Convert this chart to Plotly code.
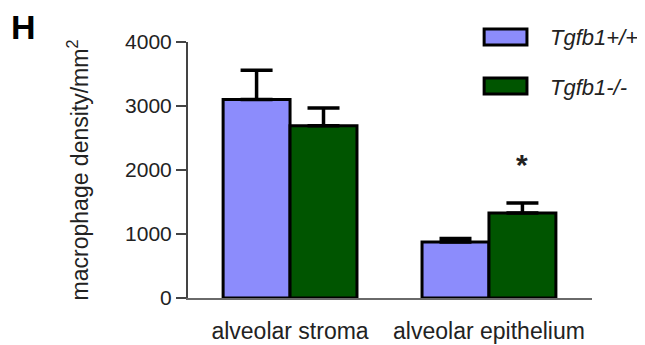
import plotly.graph_objects as go

categories = ["alveolar stroma", "alveolar epithelium"]
wt_mean = [3100, 875]
wt_sem = [460, 55]
ko_mean = [2690, 1330]
ko_sem = [280, 155]
series_names = ["Tgfb1+/+", "Tgfb1-/-"]
colors = ["#8C8CFC", "#005500"]
y_ticks = [0, 1000, 2000, 3000, 4000]

FONT = "Liberation Sans, Arial, sans-serif"
xpos = list(range(len(categories)))

fig = go.Figure()
for mean, sem, color, name in [(wt_mean, wt_sem, colors[0], series_names[0]),
                                (ko_mean, ko_sem, colors[1], series_names[1])]:
    fig.add_trace(go.Bar(
        x=xpos, y=mean, name=name,
        marker=dict(color=color, line=dict(color="black", width=3)),
        error_y=dict(type="data", symmetric=False, array=sem,
                     arrayminus=[0] * len(sem), color="black",
                     thickness=3.5, width=16),
        showlegend=False,
    ))

# page body has an 8px margin, so the figure is sized/offset to compensate
fig.update_layout(
    width=637, height=337,
    margin=dict(l=180, r=53, t=34, b=47, autoexpand=False),
    paper_bgcolor="white", plot_bgcolor="white",
    barmode="group", bargap=0.327, bargroupgap=0,
    font=dict(family=FONT, color="#222"),
)
fig.update_xaxes(
    range=[-0.513, 1.518], tickvals=xpos, ticktext=categories,
    showline=True, linecolor="#6a6a6a", linewidth=2,
    ticks="", showgrid=False, zeroline=False, automargin=False,
    tickfont=dict(size=23, color="#222"), ticklabelstandoff=11,
)
fig.update_yaxes(
    range=[0, 4000], tickvals=y_ticks,
    showline=True, linecolor="#444", linewidth=2,
    ticks="outside", ticklen=10, tickwidth=2, tickcolor="#444",
    showgrid=False, zeroline=False, automargin=False,
    tickfont=dict(size=21, color="#222"),
    title=dict(text="macrophage density/mm<sup>2</sup>", standoff=30,
               font=dict(size=23, color="#222")),
)

# legend drawn manually (large swatches as in reference)
sw = [(0.988, 1.051), (0.797, 0.859)]
ty = [1.016, 0.822]
for (y0, y1), color, name, yt in zip(sw, colors, series_names, ty):
    fig.add_shape(type="rect", xref="paper", yref="paper",
                  x0=0.733, x1=0.839, y0=y0, y1=y1,
                  fillcolor=color, line=dict(color="black", width=3))
    fig.add_annotation(xref="paper", yref="paper", x=0.891, y=yt,
                       text=f"<i>{name}</i>", showarrow=False,
                       xanchor="left", yanchor="middle",
                       font=dict(size=22, color="#222", family=FONT))

# panel label
fig.add_annotation(xref="paper", yref="paper", x=-0.406, y=1.058,
                   text="<b>H</b>", showarrow=False,
                   xanchor="center", yanchor="middle",
                   font=dict(size=34, color="black", family=FONT))

# significance asterisk
fig.add_annotation(x=1 + 0.1685, y=2080, text="<b>*</b>", showarrow=False,
                   xanchor="center", yanchor="middle",
                   font=dict(size=30, color="#222", family=FONT))

fig.write_html("out.html")
